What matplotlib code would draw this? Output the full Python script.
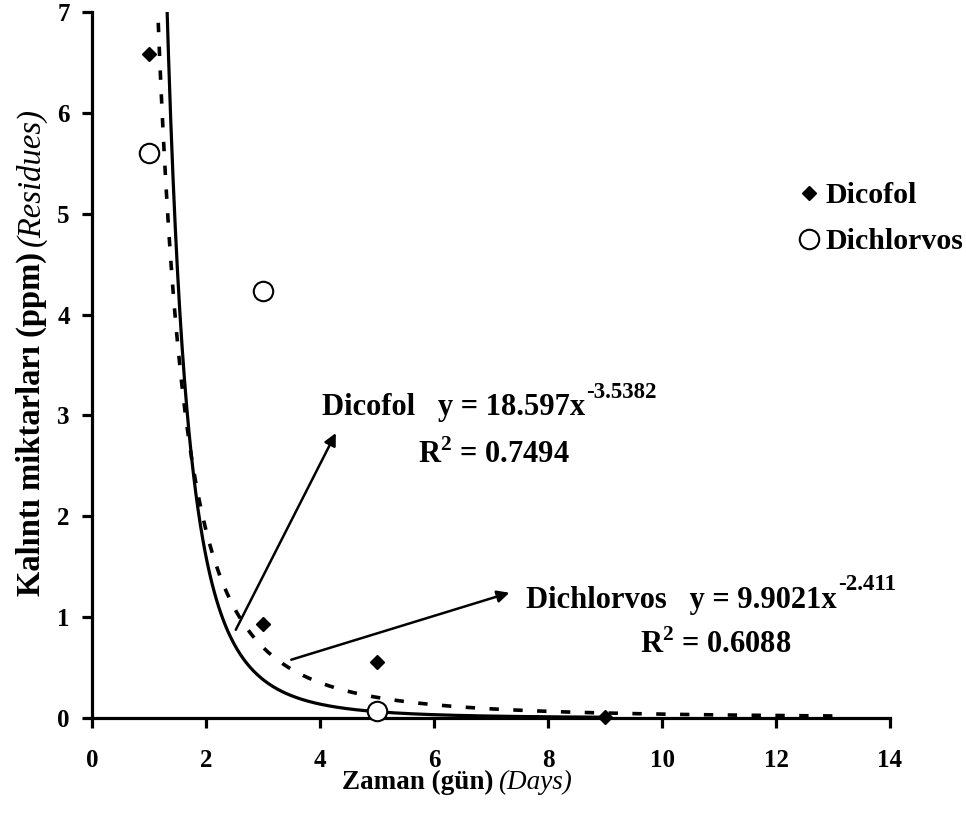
from matplotlib import pyplot as plt
import numpy as np

plt.rcParams['font.family'] = ['Liberation Serif', 'DejaVu Serif']
plt.rcParams['mathtext.fontset'] = 'custom'
plt.rcParams['mathtext.rm'] = 'Liberation Serif:bold'
plt.rcParams['mathtext.bf'] = 'Liberation Serif:bold'

# Veriler (gün, kalıntı ppm)
gun_dicofol = [1, 3, 5, 9]
dicofol = [6.58, 0.93, 0.56, 0.01]
gun_dichlorvos = [1, 3, 5]
dichlorvos = [5.6, 4.23, 0.07]

# Power trendline katsayıları (Excel)
a_dicofol, b_dicofol = 18.597, -3.5382
a_dichl, b_dichl = 9.9021, -2.411

W, H = 966, 831
fig = plt.figure(figsize=(W / 100, H / 100), dpi=100)
ax = fig.add_axes([92 / W, 1 - 718 / H, (890 - 92) / W, (718 - 12) / H])

# 1) Trendlines
x1 = np.linspace(1, 9, 400)
ax.plot(x1, a_dicofol * x1 ** b_dicofol, color='black', lw=2.3, zorder=2)
x2 = np.linspace(1, 13, 400)
ax.plot(x2, a_dichl * x2 ** b_dichl, color='black', lw=2.6,
        linestyle=(0, (2.6, 4)), zorder=2)

# 2) Noktalar
ax.plot(gun_dicofol, dicofol, 'D', color='black', markersize=7,
        label='Dicofol', zorder=4, clip_on=False)
ax.plot(gun_dichlorvos, dichlorvos, 'o', markerfacecolor='white',
        markeredgecolor='black', markeredgewidth=1.5, markersize=14,
        label='Dichlorvos', zorder=4, clip_on=False)

# 3) Eksenler
ax.set_xlim(0, 14)
ax.set_ylim(0, 7)
ax.set_xticks(range(0, 15, 2))
ax.set_yticks(range(0, 8))
for s in ['top', 'right']:
    ax.spines[s].set_visible(False)
for s in ['left', 'bottom']:
    ax.spines[s].set_linewidth(2.3)
ax.tick_params(width=2.3, length=7, labelsize=18)
ax.tick_params(axis='x', pad=15)
ax.tick_params(axis='y', pad=9)
for lab in ax.get_xticklabels() + ax.get_yticklabels():
    lab.set_fontweight('bold')

# 4) Eksen başlıkları (bold + italic parçalar)
fig.text(494 / W, 1 - 789 / H, 'Zaman (gün)', fontsize=19.5, fontweight='bold',
         ha='right', va='baseline')
fig.text(498 / W, 1 - 789 / H, '(Days)', fontsize=19.5, style='italic',
         ha='left', va='baseline')
fig.text(40 / W, 1 - 252 / H, 'Kalıntı miktarları (ppm)', fontsize=23.5,
         fontweight='bold', rotation=90, rotation_mode='anchor',
         ha='right', va='baseline')
fig.text(40 / W, 1 - 246 / H, '(Residues)', fontsize=23.5, style='italic',
         rotation=90, rotation_mode='anchor', ha='left', va='baseline')

# 5) Legend
leg = ax.legend(loc='upper left', bbox_to_anchor=(803 / W, 1 - 182 / H),
                bbox_transform=fig.transFigure, frameon=False,
                fontsize=21.5, handlelength=0.4, handletextpad=0.35,
                labelspacing=0.65, borderpad=0, borderaxespad=0)
for t in leg.get_texts():
    t.set_fontweight('bold')

# 6) Denklemler
t1 = ax.text(4.03, 3.0, 'Dicofol   y = 18.597x', fontsize=22,
             fontweight='bold', va='baseline', ha='left')
ax.annotate('-3.5382', xy=(1, 1), xycoords=t1, xytext=(1, 1),
            textcoords='offset points', fontsize=16.5, fontweight='bold',
            va='center', ha='left')
ax.text(5.72, 2.53, r'R$^{\mathbf{2}}$ = 0.7494', fontsize=22,
        fontweight='bold', va='baseline', ha='left')

t2 = ax.text(7.62, 1.09, 'Dichlorvos   y = 9.9021x', fontsize=22,
             fontweight='bold', va='baseline', ha='left')
ax.annotate('-2.411', xy=(1, 1), xycoords=t2, xytext=(1, 1),
            textcoords='offset points', fontsize=16.5, fontweight='bold',
            va='center', ha='left')
ax.text(9.61, 0.645, r'R$^{\mathbf{2}}$ = 0.6088', fontsize=22,
        fontweight='bold', va='baseline', ha='left')

# 7) Oklar
ax.annotate('', xy=(4.3, 2.85), xytext=(2.5, 0.85),
            arrowprops=dict(arrowstyle='-|>', color='black', lw=1.8,
                            mutation_scale=18))
ax.annotate('', xy=(7.37, 1.25), xytext=(3.45, 0.57),
            arrowprops=dict(arrowstyle='-|>', color='black', lw=1.8,
                            mutation_scale=18))

plt.savefig('out.png', dpi=100)
